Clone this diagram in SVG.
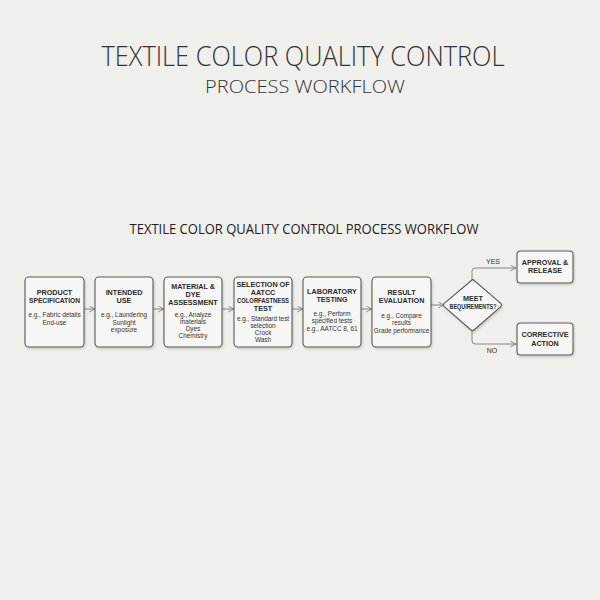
<svg xmlns="http://www.w3.org/2000/svg" width="600" height="600" viewBox="0 0 600 600">
<defs>
<style>
.t1{font-family:"Open Sans","Liberation Sans",sans-serif;font-weight:300;fill:#333;text-anchor:middle}
.sub{font-family:"Open Sans","Liberation Sans",sans-serif;font-weight:400;fill:#222;text-anchor:middle}
.box{fill:#f6f6f4;stroke:#5a5a5a;stroke-width:1.1}
.h{font-family:"Liberation Sans","Open Sans",sans-serif;font-weight:700;font-size:7.2px;fill:#2a2a2a;text-anchor:middle}
.b{font-family:"Liberation Sans","Open Sans",sans-serif;font-size:6.4px;fill:#333;text-anchor:middle}
.lbl{font-family:"Liberation Sans","Open Sans",sans-serif;font-size:7px;fill:#333;text-anchor:middle}
.c{fill:none;stroke:#7a7a7a;stroke-width:0.9}
</style>
<marker id="ah" viewBox="0 0 10 10" refX="9" refY="5" markerWidth="7" markerHeight="7" orient="auto" markerUnits="userSpaceOnUse">
<path d="M1,1 L9,5 L1,9" fill="none" stroke="#7a7a7a" stroke-width="1.2"/>
</marker>
<filter id="sh" x="-20%" y="-20%" width="140%" height="140%">
<feDropShadow dx="1" dy="1.5" stdDeviation="1.2" flood-color="#000" flood-opacity="0.18"/>
</filter>
</defs>
<rect width="600" height="600" fill="#efefec"/>
<g id="title">
<text class="t1" x="303" y="66" font-size="27" textLength="403" lengthAdjust="spacingAndGlyphs">TEXTILE COLOR QUALITY CONTROL</text>
<text class="t1" x="305" y="93" font-size="19" textLength="200" lengthAdjust="spacingAndGlyphs">PROCESS WORKFLOW</text>
<text class="sub" x="304" y="234" font-size="14" textLength="349" lengthAdjust="spacingAndGlyphs">TEXTILE COLOR QUALITY CONTROL PROCESS WORKFLOW</text>
</g>
<g id="connectors">
<line class="c" x1="84" y1="309" x2="95" y2="309" marker-end="url(#ah)"/>
<line class="c" x1="153" y1="309" x2="164" y2="309" marker-end="url(#ah)"/>
<line class="c" x1="222" y1="309" x2="234" y2="309" marker-end="url(#ah)"/>
<line class="c" x1="292" y1="309" x2="303" y2="309" marker-end="url(#ah)"/>
<line class="c" x1="361" y1="309" x2="372" y2="309" marker-end="url(#ah)"/>
<line class="c" x1="431" y1="305" x2="444" y2="305" marker-end="url(#ah)"/>
<path class="c" d="M472,280 L472,271 Q472,268 475,268 L516,268" marker-end="url(#ah)"/>
<path class="c" d="M472,331 L472,341 Q472,344 475,344 L516,344" marker-end="url(#ah)"/>
<text class="lbl" x="493" y="264">YES</text>
<text class="lbl" x="492" y="353">NO</text>
</g>
<g id="n1">
<rect class="box" filter="url(#sh)" x="25" y="277" width="59" height="70" rx="4"/>
<text class="h" x="54.5" y="295">PRODUCT</text>
<text class="h" x="54.5" y="303" textLength="51" lengthAdjust="spacingAndGlyphs">SPECIFICATION</text>
<text class="b" x="54.5" y="317">e.g., Fabric details</text>
<text class="b" x="54.5" y="325">End-use</text>
</g>
<g id="n2">
<rect class="box" filter="url(#sh)" x="95" y="277" width="58" height="70" rx="4"/>
<text class="h" x="124" y="295">INTENDED</text>
<text class="h" x="124" y="303">USE</text>
<text class="b" x="124" y="317">e.g., Laundering</text>
<text class="b" x="124" y="324.5">Sunlight</text>
<text class="b" x="124" y="332">exposure</text>
</g>
<g id="n3">
<rect class="box" filter="url(#sh)" x="164" y="277" width="58" height="70" rx="4"/>
<text class="h" x="193" y="289">MATERIAL &amp;</text>
<text class="h" x="193" y="297">DYE</text>
<text class="h" x="193" y="305">ASSESSMENT</text>
<text class="b" x="193" y="316.5">e.g., Analyze</text>
<text class="b" x="193" y="323.5">materials</text>
<text class="b" x="193" y="330.5">Dyes</text>
<text class="b" x="193" y="337.5">Chemistry</text>
</g>
<g id="n4">
<rect class="box" filter="url(#sh)" x="234" y="277" width="58" height="70" rx="4"/>
<text class="h" x="263" y="287">SELECTION OF</text>
<text class="h" x="263" y="295">AATCC</text>
<text class="h" x="263" y="303" textLength="52" lengthAdjust="spacingAndGlyphs">COLORFASTNESS</text>
<text class="h" x="263" y="311">TEST</text>
<text class="b" x="263" y="320.5">e.g., Standard test</text>
<text class="b" x="263" y="327.5">selection</text>
<text class="b" x="263" y="334.5">Crock</text>
<text class="b" x="263" y="341.5">Wash</text>
</g>
<g id="n5">
<rect class="box" filter="url(#sh)" x="303" y="277" width="58" height="70" rx="4"/>
<text class="h" x="332" y="294">LABORATORY</text>
<text class="h" x="332" y="302">TESTING</text>
<text class="b" x="332" y="315.5">e.g., Perform</text>
<text class="b" x="332" y="323">specified tests</text>
<text class="b" x="332" y="330.5">e.g., AATCC 8, 61</text>
</g>
<g id="n6">
<rect class="box" filter="url(#sh)" x="372" y="277" width="59" height="70" rx="4"/>
<text class="h" x="401.5" y="295">RESULT</text>
<text class="h" x="401.5" y="303">EVALUATION</text>
<text class="b" x="401.5" y="317.5">e.g., Compare</text>
<text class="b" x="401.5" y="325">results</text>
<text class="b" x="401.5" y="332.5">Grade performance</text>
</g>
<g id="decision">
<path class="box" filter="url(#sh)" d="M472,280 Q473,279 474,280.5 L501,303.5 Q502,305 501,306.5 L474,330 Q473,331 471,330 L444,306.5 Q443,305 444,303.5 Z"/>
<text class="h" x="473" y="301" font-size="5.8">MEET</text>
<text class="h" x="473" y="309" font-size="5.8" textLength="47" lengthAdjust="spacingAndGlyphs">BEQUIREMENTS?</text>
</g>
<g id="approve">
<rect class="box" filter="url(#sh)" x="517" y="251" width="56" height="32" rx="3.5"/>
<text class="h" x="545" y="264.5">APPROVAL &amp;</text>
<text class="h" x="545" y="273">RELEASE</text>
</g>
<g id="corrective">
<rect class="box" filter="url(#sh)" x="517" y="323" width="56" height="32" rx="3.5"/>
<text class="h" x="545" y="337">CORRECTIVE</text>
<text class="h" x="545" y="345.5">ACTION</text>
</g>
</svg>
